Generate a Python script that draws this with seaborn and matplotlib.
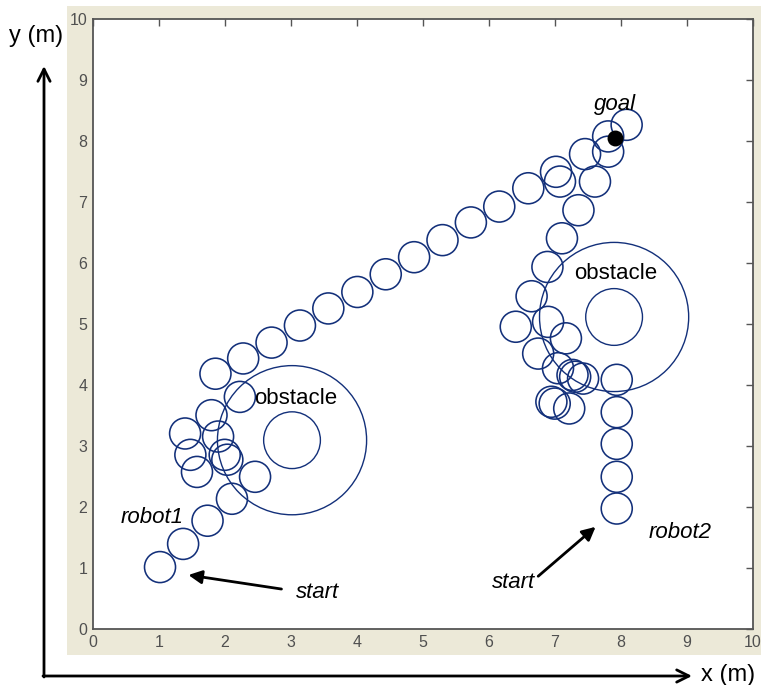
import numpy as np
import pandas as pd
import seaborn as sns
import matplotlib
matplotlib.use("Agg")
import matplotlib.pyplot as plt
from matplotlib.patches import Rectangle

# Robot footprints along each path (x, y in metres)
robot1_x = [1.02, 1.37, 1.74, 2.11, 2.46, 2.04, 2.00, 1.90, 1.58, 1.48, 1.40,
            1.80, 2.23, 1.86, 2.28, 2.71, 3.14, 3.57, 4.01, 4.44, 4.87, 5.30,
            5.73, 6.16, 6.60, 7.02, 7.46, 7.81]
robot1_y = [1.02, 1.40, 1.78, 2.14, 2.50, 2.78, 2.86, 3.16, 2.58, 2.86, 3.21,
            3.51, 3.81, 4.19, 4.44, 4.70, 4.98, 5.26, 5.53, 5.82, 6.10, 6.38,
            6.67, 6.93, 7.23, 7.50, 7.79, 8.08]

robot2_x = [7.94, 7.94, 7.94, 7.94, 7.94, 7.43, 7.31, 7.27, 7.22, 7.00, 6.95,
            7.05, 6.75, 7.17, 6.90, 6.41, 6.65, 6.89, 7.11, 7.36, 7.08, 7.61,
            7.81, 8.09]
robot2_y = [1.98, 2.50, 3.04, 3.56, 4.09, 4.11, 4.14, 4.17, 3.62, 3.70, 3.73,
            4.28, 4.52, 4.77, 5.04, 4.96, 5.46, 5.94, 6.41, 6.87, 7.34, 7.34,
            7.83, 8.27]

# Obstacles: centre, core radius, influence radius
obstacle_x = [3.02, 7.90]
obstacle_y = [3.10, 5.12]
obstacle_core_r = 0.43
obstacle_zone_r = 1.13
robot_r = 0.235

goal_x, goal_y = 7.91, 8.05

ticks = list(range(0, 11))

BLUE = "#13307a"
BEIGE = "#ECE9D8"
TICK_GREY = "#505050"

sns.set_style("white")
plt.rcParams["font.family"] = ["Liberation Sans", "DejaVu Sans"]
plt.rcParams["text.color"] = "black"

W, H, DPI = 761, 685, 100
fig = plt.figure(figsize=(W / DPI, H / DPI), dpi=DPI)
fig.patch.set_facecolor("white")

# beige panel behind the axes
fig.patches.append(Rectangle((67 / W, (H - 655) / H), (W - 67) / W, (655 - 6) / H,
                             transform=fig.transFigure, facecolor=BEIGE,
                             edgecolor="none", zorder=-10))

ax = fig.add_axes([92.7 / W, (H - 629.3) / H, 660 / W, 610 / H])
ax.set_zorder(1)
ax.set_facecolor("white")
ax.set_xlim(0, 10)
ax.set_ylim(0, 10)
ax.set_xticks(ticks)
ax.set_yticks(ticks)
ax.tick_params(direction="in", length=5, width=1, color="#555555",
               top=True, right=True, labelsize=11.5, labelcolor=TICK_GREY, pad=4)
for s in ax.spines.values():
    s.set_color("#555555")
    s.set_linewidth(1.3)

# marker size from a radius in data units
px_per_unit = ax.transData.transform((1, 0))[0] - ax.transData.transform((0, 0))[0]


def msize(r):
    d_pt = 2 * r * px_per_unit * 72 / DPI
    return d_pt ** 2


robots = pd.DataFrame({
    "x": robot1_x + robot2_x,
    "y": robot1_y + robot2_y,
    "robot": ["robot1"] * len(robot1_x) + ["robot2"] * len(robot2_x),
})
sns.scatterplot(data=robots, x="x", y="y", s=msize(robot_r), marker="o",
                facecolors="none", edgecolor=BLUE, linewidth=1.15, ax=ax,
                legend=False, zorder=3)

obst = pd.DataFrame({"x": obstacle_x, "y": obstacle_y})
for r in (obstacle_core_r, obstacle_zone_r):
    sns.scatterplot(data=obst, x="x", y="y", s=msize(r), marker="o",
                    facecolors="none", edgecolor=BLUE, linewidth=1.0, ax=ax,
                    legend=False, zorder=3)
ax.set_xlabel("")
ax.set_ylabel("")
ax.set_xlim(0, 10)
ax.set_ylim(0, 10)

# goal marker
ax.scatter([goal_x], [goal_y], s=msize(0.11), color="black", zorder=4)

# labels inside the plot
lab_kw = dict(fontsize=16, ha="center", va="center", color="black", zorder=5)
ax.text(3.07, 3.78, "obstacle", **lab_kw)
ax.text(7.93, 5.84, "obstacle", **lab_kw)
ax.text(7.91, 8.60, "goal", style="italic", **lab_kw)
ax.text(0.90, 1.84, "robot1", style="italic", **lab_kw)
ax.text(8.90, 1.58, "robot2", style="italic", **lab_kw)
ax.text(3.40, 0.60, "start", style="italic", **lab_kw)
ax.text(6.37, 0.76, "start", style="italic", **lab_kw)

arrow_kw = dict(arrowstyle="-|>", color="black", lw=2, mutation_scale=20,
                shrinkA=0, shrinkB=0)
ax.annotate("", xy=(1.45, 0.89), xytext=(2.86, 0.66), arrowprops=arrow_kw)
ax.annotate("", xy=(7.62, 1.68), xytext=(6.75, 0.87), arrowprops=arrow_kw)

# outer axis arrows with their labels
outer_kw = dict(arrowstyle="->", color="black", lw=2, mutation_scale=22,
                shrinkA=0, shrinkB=0)
ax.annotate("", xy=(44, H - 66), xytext=(44, H - 677), xycoords="figure pixels",
            textcoords="figure pixels", arrowprops=outer_kw, annotation_clip=False)
ax.annotate("", xy=(692, H - 676), xytext=(43, H - 676), xycoords="figure pixels",
            textcoords="figure pixels", arrowprops=outer_kw, annotation_clip=False)
fig.text(36 / W, (H - 36) / H, "y (m)", fontsize=17, ha="center", va="center",
         color="black")
fig.text(728 / W, (H - 675) / H, "x (m)", fontsize=17, ha="center", va="center",
         color="black")

fig.savefig("out.png", dpi=DPI, facecolor="white")
